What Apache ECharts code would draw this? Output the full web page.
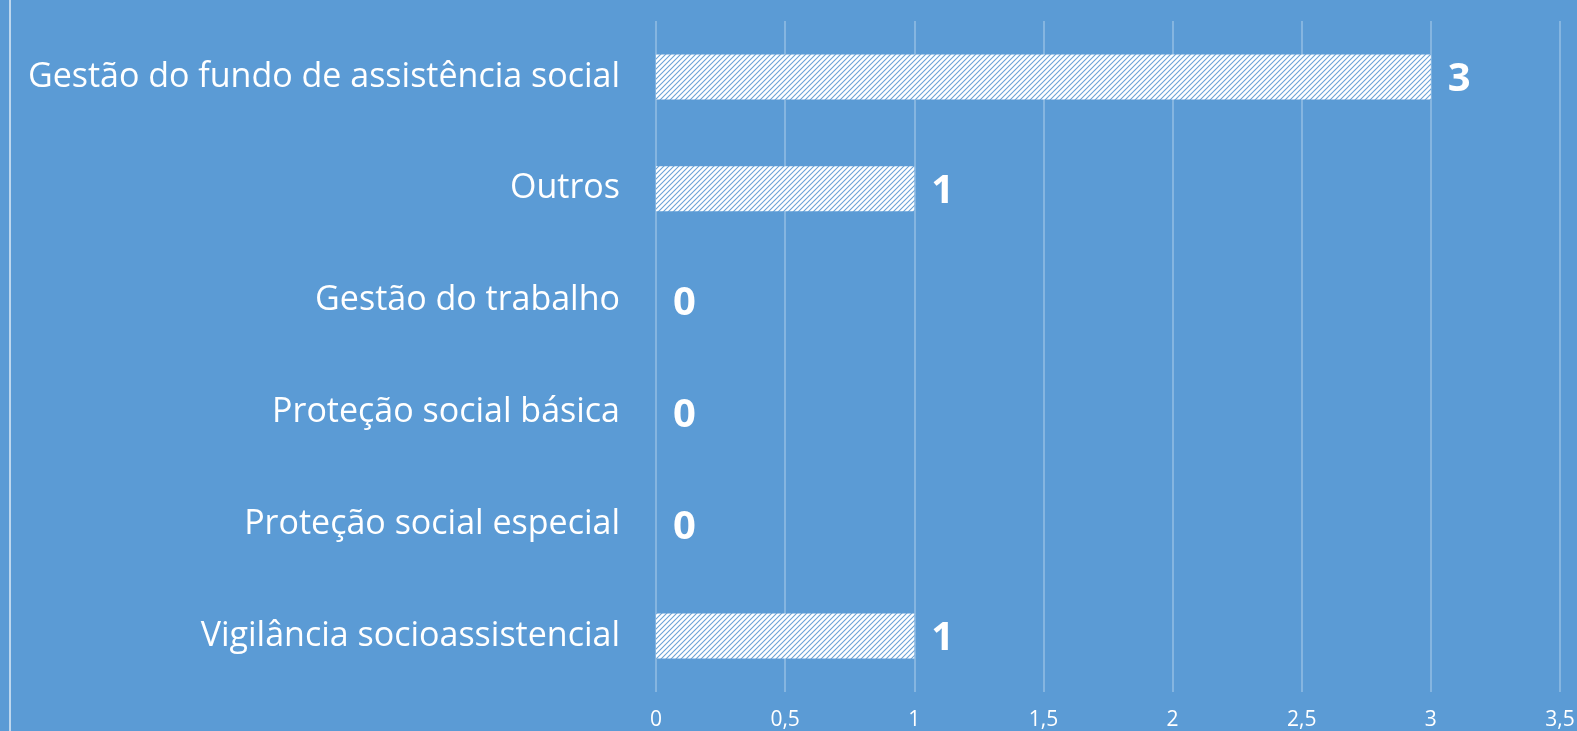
<!DOCTYPE html>
<html><head><meta charset="utf-8">
<script src="https://cdn.jsdelivr.net/npm/echarts@6/dist/echarts.min.js"></script>
<style>html,body{margin:0;padding:0;background:#5B9BD5;}#c{width:1577px;height:731px;}</style>
</head><body><div id="c"></div>
<script>
const categories = ['Vigilância socioassistencial','Proteção social especial','Proteção social básica','Gestão do trabalho','Outros','Gestão do fundo de assistência social'];
const values = [1,0,0,0,1,3];
const xTicks = [0,0.5,1,1.5,2,2.5,3,3.5];

function hatch(){
  const s = 5;
  const c = document.createElement('canvas');
  c.width = s; c.height = s;
  const g = c.getContext('2d');
  g.fillStyle = '#ffffff'; g.fillRect(0,0,s,s);
  g.strokeStyle = '#6AA3D8'; g.lineWidth = 1.1;
  g.beginPath();
  g.moveTo(0,s); g.lineTo(s,0);
  g.moveTo(-s/2,s/2); g.lineTo(s/2,-s/2);
  g.moveTo(s/2,s*1.5); g.lineTo(s*1.5,s/2);
  g.stroke();
  return c;
}

const chart = echarts.init(document.getElementById('c'));
chart.setOption({
  backgroundColor:'#5B9BD5',
  animation:false,
  grid:{left:656, right:17, top:21, height:671, outerBoundsMode:'none', containLabel:false},
  xAxis:{type:'value', min:0, max:3.5, interval:0.5,
    axisLine:{show:false}, axisTick:{show:false},
    splitLine:{lineStyle:{color:'rgba(255,255,255,0.35)', width:1.5}},
    axisLabel:{color:'#fff', fontSize:21, fontFamily:'Open Sans', margin:18,
      formatter:v=>String(v).replace('.',',')}},
  yAxis:{type:'category', data:categories,
    axisLine:{show:false}, axisTick:{show:false},
    axisLabel:{color:'#fff', fontSize:34, fontFamily:'Open Sans', margin:36, padding:[6,0,0,0]}},
  series:[{type:'bar', data:values, barWidth:45,
    itemStyle:{color:{image:hatch(), repeat:'repeat'}},
    label:{show:true, position:'right', distance:17, offset:[0,3], color:'#fff', fontSize:40, fontWeight:'bold', fontFamily:'Open Sans'}}],
  graphic:[{type:'line', shape:{x1:10,y1:0,x2:10,y2:731}, style:{stroke:'rgba(255,255,255,0.6)', lineWidth:2}}]
});
</script></body></html>
